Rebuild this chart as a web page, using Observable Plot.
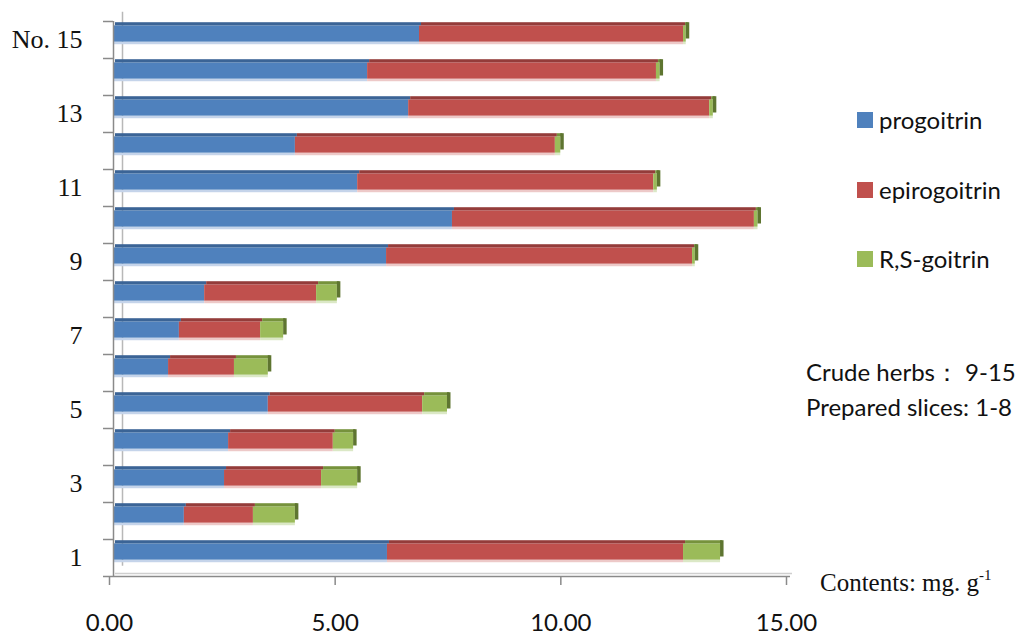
<!DOCTYPE html>
<html>
<head>
<meta charset="utf-8">
<script src="https://cdn.jsdelivr.net/npm/d3@7"></script>
<script src="https://cdn.jsdelivr.net/npm/@observablehq/plot@0.6"></script>
<style>
  html, body { margin: 0; padding: 0; background: #fff; }
  #wrap { position: relative; width: 1024px; height: 639px; overflow: hidden; }
  .leg { position: absolute; font-family: Lato, "Open Sans", sans-serif; font-size: 24px; color: #111; white-space: nowrap; line-height: 1; }
  .sw { position: absolute; width: 16px; height: 16px; }
  .note { position: absolute; font-family: Lato, "Open Sans", sans-serif; font-size: 24px; color: #111; white-space: nowrap; line-height: 1; }
  .xlab { position: absolute; font-family: "Liberation Serif", "Times New Roman", serif; font-size: 25px; color: #111; white-space: nowrap; line-height: 1; }
  .xlab sup { font-size: 15px; position: relative; top: -2px; }
</style>
</head>
<body>
<div id="wrap"></div>
<script>
// ---- data ----
const categories = [1, 2, 3, 4, 5, 6, 7, 8, 9, 10, 11, 12, 13, 14, 15];
const seriesNames = ["progoitrin", "epirogoitrin", "R,S-goitrin"];
const progoitrin   = [6.07, 1.57, 2.46, 2.55, 3.43, 1.22, 1.46, 2.02, 6.05, 7.51, 5.41, 4.03, 6.54, 5.63, 6.78];
const epirogoitrin = [6.56, 1.53, 2.15, 2.32, 3.42, 1.46, 1.80, 2.48, 6.78, 6.69, 6.56, 5.76, 6.67, 6.40, 5.85];
const goitrin      = [0.82, 0.93, 0.80, 0.45, 0.55, 0.75, 0.51, 0.46, 0.06, 0.08, 0.08, 0.12, 0.08, 0.08, 0.06];
const xTicks = [0, 5, 10, 15];
const yLabelTicks = [1, 3, 5, 7, 9, 11, 13, 15];

const colors = ["#4F81BD", "#C0504D", "#9BBB59"];
const topColors = ["#3B6496", "#943C3A", "#76923C"];
const lightColors = ["#c5d4ea", "#edc9c8", "#dbe8c6"];

// build stacked rows
const values = [progoitrin, epirogoitrin, goitrin];
const rows = [];
const totals = [];
categories.forEach((no, i) => {
  let acc = 0;
  values.forEach((arr, s) => {
    rows.push({no, s, series: seriesNames[s], x1: acc, x2: acc + arr[i]});
    acc += arr[i];
  });
  totals.push({no, total: acc});
});
const yBounds = d3.range(0.5, 16, 1);

const half = 0.22, topH = 0.085, shift = -6;

const chart = Plot.plot({
  width: 1024,
  height: 639,
  marginLeft: 113,
  marginRight: 234,
  marginTop: 21,
  marginBottom: 63,
  style: {fontFamily: "Lato, sans-serif", fontSize: "24px", color: "#111", background: "transparent"},
  x: {domain: [0, 15]},
  y: {domain: [0.5, 15.5]},
  marks: [
    // back wall + floor (3D frame)
    Plot.ruleX([0], {y1: 0.78, y2: 15.75, dx: 9, stroke: "#b8b8b8", strokeWidth: 1.5}),
    Plot.ruleY([0.5], {x1: 0, x2: 15, dy: -3, dx: 2, stroke: "#cfcfcf", strokeWidth: 1.5}),
    // light underside
    Plot.rect(rows, {x1: "x1", x2: "x2", y1: d => d.no - half - 0.07, y2: d => d.no - half, dy: shift, fill: d => lightColors[d.s]}),
    // front faces
    Plot.rect(rows, {x1: "x1", x2: "x2", y1: d => d.no - half, y2: d => d.no + half, dy: shift, fill: d => colors[d.s]}),
    // top faces
    Plot.rect(rows, {x1: "x1", x2: "x2", y1: d => d.no + half, y2: d => d.no + half + topH, dy: shift, dx: 2, fill: d => topColors[d.s]}),
    // right caps
    Plot.rect(totals, {x1: "total", x2: "total", insetRight: -3.5, y1: d => d.no - half + topH, y2: d => d.no + half + topH, dy: shift, fill: "#5E7530"}),
    // axis lines
    Plot.ruleX([0], {y1: 0.5, y2: 15.5, stroke: "#8a8a8a", strokeWidth: 1.5}),
    Plot.ruleY([0.5], {x1: 0, x2: 15, stroke: "#8a8a8a", strokeWidth: 1.5}),
    // y boundary ticks
    Plot.axisY({ticks: yBounds, tickFormat: () => "", tickSize: 10, stroke: "#8a8a8a", strokeWidth: 1.5}),
    // y labels
    Plot.axisY({ticks: yLabelTicks, tickSize: 0, tickPadding: 31, tickFormat: d => d === 15 ? "No. 15" : String(d),
      fontFamily: "'Liberation Serif', 'Times New Roman', serif", fontSize: 26, fill: "#111", label: null}),
    // x axis
    Plot.axisX({ticks: xTicks, tickFormat: d3.format(".2f"), tickSize: 9, tickPadding: 28, stroke: "#8a8a8a", strokeWidth: 1.5,
      fontFamily: "Lato, sans-serif", fontSize: 24, fill: "#111", dx: -4, label: null})
  ]
});

const wrap = document.getElementById("wrap");
wrap.appendChild(chart);

// legend
const legendTop = [108, 178, 247];
seriesNames.forEach((name, i) => {
  const sw = document.createElement("div");
  sw.className = "sw";
  sw.style.left = "857px";
  sw.style.top = (legendTop[i] + 4) + "px";
  sw.style.background = colors[i];
  wrap.appendChild(sw);
  const t = document.createElement("div");
  t.className = "leg";
  t.style.left = "879px";
  t.style.top = legendTop[i] + "px";
  t.textContent = name;
  wrap.appendChild(t);
});

const notes = ["Crude herbs：  9-15", "Prepared slices: 1-8"];
const noteTop = [360, 395];
notes.forEach((n, i) => {
  const d = document.createElement("div");
  d.className = "note";
  d.style.left = "806px";
  d.style.top = noteTop[i] + "px";
  d.textContent = n;
  wrap.appendChild(d);
});

const xl = document.createElement("div");
xl.className = "xlab";
xl.style.left = "820px";
xl.style.top = "570px";
xl.innerHTML = "Contents: mg. g<sup>-1</sup>";
wrap.appendChild(xl);
</script>
</body>
</html>
